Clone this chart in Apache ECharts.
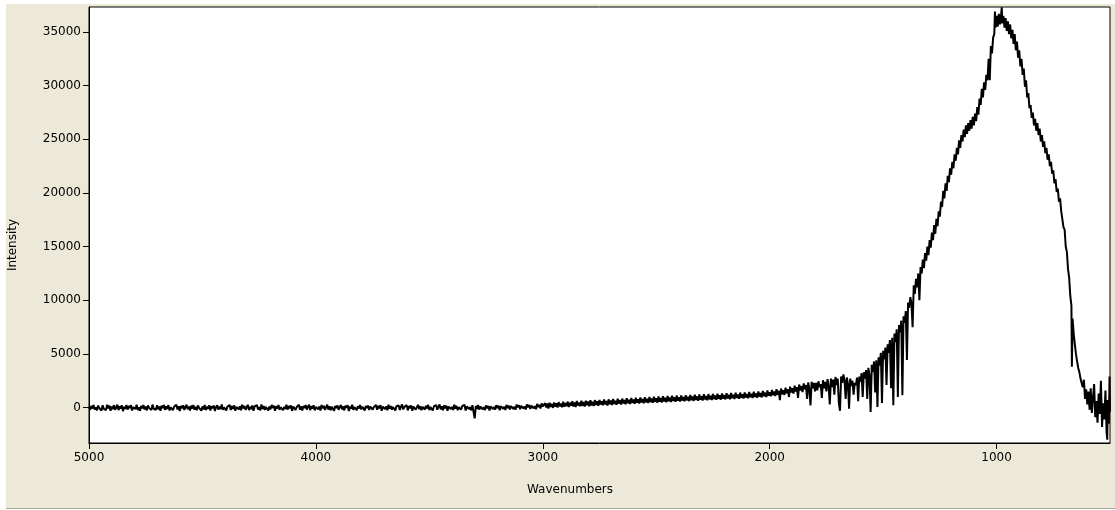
<!DOCTYPE html>
<html>
<head>
<meta charset="utf-8">
<script src="https://cdn.jsdelivr.net/npm/echarts@6/dist/echarts.min.js"></script>
<style>
html,body{margin:0;padding:0;background:#fff;}
#bg{position:absolute;left:6px;top:4px;width:1109px;height:504px;background:#ECE9D8;border-bottom:1px solid #ACA899;}
#chart{position:absolute;left:0;top:0;width:1115px;height:510px;}
</style>
</head>
<body>
<div id="bg"></div>
<div id="chart"></div>
<script>
var xTicks = [5000, 4000, 3000, 2000, 1000];
var yTicks = [0, 5000, 10000, 15000, 20000, 25000, 30000, 35000];
var xTitle = 'Wavenumbers';
var yTitle = 'Intensity';

// [wavenumber, intensity]
var spectrum = [
[5000,80],[4995,-210],[4990,150],[4985,-90],[4980,240],[4975,-170],[4970,30],[4965,-260],[4960,190],[4955,-40],
[4950,120],[4945,-280],[4940,210],[4935,-120],[4930,60],[4925,-230],[4920,260],[4915,-60],[4910,170],[4905,-300],
[4900,90],[4895,-150],[4890,230],[4885,-200],[4880,10],[4875,280],[4870,-240],[4865,130],[4860,-80],[4855,200],
[4850,-330],[4845,70],[4840,-120],[4835,250],[4830,-190],[4825,140],[4820,-50],[4815,220],[4810,-270],[4805,40],
[4800,180],[4795,-140],[4790,270],[4785,-230],[4780,20],[4775,-300],[4770,160],[4765,-70],[4760,240],[4755,-180],
[4750,100],[4745,-260],[4740,190],[4735,-30],[4730,130],[4725,-240],[4720,280],[4715,-110],[4710,50],[4705,-200],
[4700,210],[4695,-160],[4690,90],[4685,-290],[4680,170],[4675,-40],[4670,250],[4665,-210],[4660,110],[4655,-130],
[4650,230],[4645,-270],[4640,30],[4635,190],[4630,-250],[4625,80],[4620,-100],[4615,260],[4610,-180],[4605,120],
[4600,-310],[4595,150],[4590,-60],[4585,210],[4580,-220],[4575,40],[4570,270],[4565,-150],[4560,100],[4555,-280],
[4550,180],[4545,-90],[4540,240],[4535,-200],[4530,60],[4525,-250],[4520,200],[4515,-20],[4510,150],[4505,-290],
[4500,110],[4495,-170],[4490,250],[4485,-230],[4480,70],[4475,-120],[4470,220],[4465,-270],[4460,130],[4455,-60],
[4450,190],[4445,-320],[4440,40],[4435,230],[4430,-190],[4425,100],[4420,-140],[4415,280],[4410,-210],[4405,20],
[4400,170],[4395,-260],[4390,90],[4385,-50],[4380,240],[4375,-230],[4370,140],[4365,-110],[4360,210],[4355,-290],
[4350,60],[4345,180],[4340,-170],[4335,120],[4330,-250],[4325,270],[4320,-80],[4315,150],[4310,-200],[4305,30],
[4300,260],[4295,-240],[4290,80],[4285,-130],[4280,200],[4275,-300],[4270,110],[4265,-30],[4260,230],[4255,-180],
[4250,50],[4245,-260],[4240,290],[4235,-120],[4230,140],[4225,-220],[4220,60],[4215,210],[4210,-270],[4205,100],
[4200,-160],[4195,250],[4190,-40],[4185,170],[4180,-290],[4175,120],[4170,-90],[4165,240],[4160,-210],[4155,30],
[4150,190],[4145,-250],[4140,80],[4135,-140],[4130,270],[4125,-190],[4120,140],[4115,-60],[4110,200],[4105,-310],
[4100,90],[4095,180],[4090,-230],[4085,40],[4080,-120],[4075,260],[4070,-200],[4065,110],[4060,-270],[4055,160],
[4050,-50],[4045,230],[4040,-180],[4035,70],[4030,280],[4025,-240],[4020,120],[4015,-100],[4010,210],[4005,-260],
[4000,50],[3995,190],[3990,-150],[3985,100],[3980,-280],[3975,240],[3970,-70],[3965,160],[3960,-220],[3955,30],
[3950,270],[3945,-190],[3940,130],[3935,-240],[3930,80],[3925,220],[3920,-300],[3915,150],[3910,-40],[3905,200],
[3900,-210],[3895,60],[3890,250],[3885,-160],[3880,110],[3875,-260],[3870,180],[3865,-20],[3860,230],[3855,-320],
[3850,90],[3845,-110],[3840,260],[3835,-200],[3830,40],[3825,170],[3820,-240],[3815,120],[3810,-80],[3805,240],
[3800,-170],[3795,70],[3790,210],[3785,-280],[3780,140],[3775,-50],[3770,190],[3765,-230],[3760,100],[3755,280],
[3750,-190],[3745,30],[3740,-130],[3735,250],[3730,-210],[3725,160],[3720,-60],[3715,220],[3710,-290],[3705,80],
[3700,180],[3695,-150],[3690,110],[3685,-250],[3680,270],[3675,-90],[3670,140],[3665,-200],[3660,60],[3655,240],
[3650,-270],[3645,120],[3640,-30],[3635,200],[3630,-220],[3625,90],[3620,290],[3615,-170],[3610,50],[3605,-120],
[3600,230],[3595,-260],[3590,150],[3585,-70],[3580,210],[3575,-300],[3570,100],[3565,180],[3560,-190],[3555,20],
[3550,260],[3545,-140],[3540,130],[3535,-240],[3530,70],[3525,220],[3520,-180],[3515,160],[3510,-90],[3505,250],
[3500,-230],[3495,40],[3490,190],[3485,-270],[3480,110],[3475,-40],[3470,240],[3465,-200],[3460,80],[3455,280],
[3450,-160],[3445,120],[3440,-250],[3435,200],[3430,-60],[3425,170],[3420,-290],[3415,90],[3410,230],[3405,-130],
[3400,60],[3395,-220],[3390,270],[3385,-100],[3380,150],[3375,-240],[3370,30],[3365,210],[3360,-180],[3355,130],
[3350,-50],[3345,260],[3340,-270],[3335,100],[3330,180],[3325,-150],[3320,50],[3315,-260],[3310,220],[3305,-400],
[3300,-1000],[3295,150],[3290,-120],[3285,240],[3280,-190],[3275,90],[3270,270],[3265,-160],[3260,40],[3255,-230],
[3250,200],[3245,-80],[3240,150],[3235,-260],[3230,110],[3225,290],[3220,-140],[3215,60],[3210,-200],[3205,230],
[3200,-30],[3195,170],[3190,-250],[3185,130],[3180,300],[3175,-110],[3170,80],[3165,-220],[3160,250],[3155,-60],
[3150,190],[3145,-170],[3140,140],[3135,320],[3130,-130],[3125,70],[3120,-200],[3115,280],[3110,20],[3105,210],
[3100,-150],[3095,160],[3090,330],[3085,-90],[3080,110],[3075,-180],[3070,300],[3065,40],[3060,240],[3055,-120],
[3050,180],[3045,360],[3040,-70],[3035,130],[3030,-150],[3025,340],[3020,60],[3015,250],[3010,-80],[3005,390],
[3000,100],[2995,-40],[2990,410],[2985,20],[2980,380],[2975,-80],[2970,450],[2965,60],[2960,340],[2955,-30],
[2950,480],[2945,90],[2940,400],[2935,0],[2930,510],[2925,120],[2920,370],[2915,30],[2910,540],[2905,80],
[2900,430],[2895,130],[2890,560],[2885,50],[2880,460],[2875,170],[2870,590],[2865,100],[2860,480],[2855,60],
[2850,620],[2845,190],[2840,470],[2835,120],[2830,650],[2825,160],[2820,520],[2815,90],[2810,640],[2805,220],
[2800,560],[2795,130],[2790,680],[2785,200],[2780,550],[2775,150],[2770,700],[2765,250],[2760,590],[2755,170],
[2750,720],[2745,280],[2740,580],[2735,210],[2730,750],[2725,290],[2720,620],[2715,190],[2710,770],[2705,320],
[2700,650],[2695,240],[2690,800],[2685,330],[2680,640],[2675,260],[2670,820],[2665,370],[2660,690],[2655,280],
[2650,840],[2645,390],[2640,700],[2635,300],[2630,870],[2625,410],[2620,730],[2615,330],[2610,900],[2605,430],
[2600,760],[2595,350],[2590,920],[2585,450],[2580,780],[2575,370],[2570,950],[2565,470],[2560,800],[2555,400],
[2550,970],[2545,490],[2540,830],[2535,420],[2530,1000],[2525,510],[2520,850],[2515,440],[2510,1020],[2505,530],
[2500,870],[2495,460],[2490,1040],[2485,550],[2480,890],[2475,480],[2470,1060],[2465,570],[2460,910],[2455,500],
[2450,1080],[2445,590],[2440,930],[2435,520],[2430,1100],[2425,610],[2420,950],[2415,540],[2410,1120],[2405,630],
[2400,970],[2395,560],[2390,1140],[2385,650],[2380,990],[2375,580],[2370,1160],[2365,670],[2360,1010],[2355,600],
[2350,1180],[2345,690],[2340,1030],[2335,620],[2330,1200],[2325,710],[2320,1040],[2315,640],[2310,1220],[2305,730],
[2300,1060],[2295,660],[2290,1240],[2285,750],[2280,1080],[2275,680],[2270,1260],[2265,770],[2260,1100],[2255,700],
[2250,1280],[2245,790],[2240,1120],[2235,720],[2230,1300],[2225,810],[2220,1140],[2215,740],[2210,1320],[2205,830],
[2200,1160],[2195,760],[2190,1340],[2185,850],[2180,1180],[2175,780],[2170,1360],[2165,870],[2160,1200],[2155,800],
[2150,1380],[2145,890],[2140,1220],[2135,820],[2130,1400],[2125,910],[2120,1240],[2115,840],[2110,1420],[2105,930],
[2100,1260],[2095,860],[2090,1450],[2085,960],[2080,1290],[2075,890],[2070,1480],[2065,990],[2060,1320],[2055,920],
[2050,1510],[2045,1020],[2040,1350],[2035,950],[2030,1550],[2025,1060],[2020,1390],[2015,990],[2010,1590],[2005,1100],
[2000,1430],[1995,1050],[1990,1650],[1985,1150],[1980,1500],[1975,1080],[1970,1720],[1965,1200],[1960,1560],[1955,700],
[1950,1780],[1945,1250],[1940,1620],[1935,1180],[1930,1850],[1925,1330],[1920,1700],[1915,1000],[1910,1950],[1905,1400],
[1900,1800],[1895,1300],[1890,2050],[1885,1500],[1880,1900],[1875,900],[1870,2150],[1865,1600],[1860,2000],[1855,1450],
[1850,2250],[1845,1700],[1840,2100],[1835,800],[1830,2350],[1825,1750],[1820,200],[1815,2400],[1810,1800],[1805,2300],
[1800,1500],[1795,2300],[1790,1600],[1785,2450],[1780,1900],[1775,2200],[1770,900],[1765,2550],[1760,1800],[1755,2400],
[1750,1500],[1745,2650],[1740,2000],[1735,300],[1730,2700],[1725,1900],[1720,2600],[1715,1200],[1710,2850],[1705,2100],
[1700,2700],[1695,400],[1690,-300],[1685,2900],[1680,2300],[1675,3100],[1670,2500],[1665,800],[1660,2800],[1655,2200],
[1650,-100],[1645,2700],[1640,2000],[1635,2500],[1630,1200],[1625,2300],[1620,2100],[1615,2800],[1610,600],[1605,2900],
[1600,2400],[1595,3200],[1590,1000],[1585,3300],[1580,2700],[1575,3500],[1570,800],[1565,3700],[1560,3000],[1555,-400],
[1550,4000],[1545,3300],[1540,4300],[1535,1400],[1530,4400],[1525,50],[1520,4700],[1515,3900],[1510,5100],[1505,420],
[1500,5300],[1495,4500],[1490,5600],[1485,2100],[1480,5900],[1475,5100],[1470,6300],[1465,1800],[1460,6500],[1455,230],
[1450,6900],[1445,6100],[1440,7300],[1435,980],[1430,7700],[1425,7000],[1420,8100],[1415,1160],[1410,8500],[1405,7900],
[1400,9000],[1395,4430],[1390,9800],[1385,9300],[1380,10300],[1375,9700],[1370,7500],[1365,11400],[1360,10600],[1355,12000],
[1350,11200],[1345,12500],[1340,10000],[1335,13100],[1330,12500],[1325,13800],[1320,13000],[1315,14400],[1310,13700],[1305,15000],
[1300,14200],[1295,15600],[1290,14900],[1285,16300],[1280,15600],[1275,17000],[1270,16200],[1265,17600],[1260,16900],[1255,18300],
[1250,17800],[1245,19200],[1240,18700],[1235,20200],[1230,19500],[1225,20900],[1220,20200],[1215,21600],[1210,21000],[1205,22300],
[1200,21700],[1195,22900],[1190,22300],[1185,23600],[1180,23000],[1175,24200],[1170,23600],[1165,24900],[1160,24200],[1155,25400],
[1150,24800],[1145,25900],[1140,25200],[1135,26300],[1130,25500],[1125,26500],[1120,25800],[1115,26800],[1110,26000],[1105,27100],
[1100,26300],[1095,27400],[1090,26700],[1085,28000],[1080,27300],[1075,28800],[1070,28200],[1065,29700],[1060,28900],[1055,30300],
[1050,29600],[1045,31000],[1040,30500],[1035,32500],[1030,30500],[1025,33700],[1020,33000],[1015,34500],[1010,34800],[1007,36900],
[1005,35400],[1000,36500],[995,35500],[990,36700],[985,35700],[980,36600],[977,37300],[975,35800],[970,36500],[965,35400],
[960,36300],[955,35100],[950,36000],[945,34800],[940,35700],[935,34400],[930,35200],[925,33900],[920,34800],[915,33300],
[910,34100],[905,32600],[900,33300],[895,31800],[890,32500],[885,31000],[880,31600],[875,29900],[870,30500],[865,28900],
[860,29300],[855,27900],[850,28200],[845,27000],[840,27500],[835,26300],[830,26900],[825,25800],[820,26500],[815,25400],
[810,26000],[805,24800],[800,25400],[795,24300],[790,24800],[785,23700],[780,24200],[775,23100],[770,23600],[765,22500],
[760,22900],[755,21800],[750,22100],[745,20900],[740,21300],[735,20100],[730,20400],[725,19200],[720,19500],[715,18300],
[710,18200],[705,16800],[700,16600],[695,15000],[690,14500],[685,12900],[680,12100],[675,10400],[670,9500],[668,3800],
[665,8300],[660,6900],[655,5900],[650,5000],[645,4300],[640,3700],[635,3300],[630,2700],[625,2300],[620,1900],
[615,2600],[610,800],[605,1700],[600,300],[595,1500],[590,-200],[585,1800],[580,-500],[575,900],[570,2200],
[565,-900],[560,600],[555,-1400],[550,1300],[545,-600],[540,2500],[535,-1800],[530,400],[525,-1100],[520,1600],
[515,-2300],[512,-3000],[510,700],[505,-1500],[502,2900],[500,-400]
];

var font = '12px "DejaVu Sans", sans-serif';
var plain = function (v) { return String(v); };
var chart = echarts.init(document.getElementById('chart'), null, {renderer: 'canvas'});
chart.setOption({
  animation: false,
  backgroundColor: 'transparent',
  grid: {left: 89, top: 7, right: 5, bottom: 67, show: true, backgroundColor: '#fff', borderColor: '#000', borderWidth: 1},
  xAxis: {
    type: 'value', inverse: true, min: 500, max: 5000,
    axisLine: {show: true, onZero: false, lineStyle: {color: '#000'}},
    axisTick: {show: true, length: 6, customValues: xTicks, lineStyle: {color: '#000'}},
    axisLabel: {customValues: xTicks, formatter: plain, color: '#000', fontFamily: 'DejaVu Sans', fontSize: 12, margin: 9},
    splitLine: {show: false}
  },
  yAxis: {
    type: 'value', min: -3300, max: 37330,
    axisLine: {show: true, onZero: false, lineStyle: {color: '#000'}},
    axisTick: {show: true, length: 6, customValues: yTicks, lineStyle: {color: '#000'}},
    axisLabel: {customValues: yTicks, formatter: plain, color: '#000', fontFamily: 'DejaVu Sans', fontSize: 12, margin: 8},
    splitLine: {show: false}
  },
  graphic: [
    {type: 'text', x: 13, y: 245, rotation: Math.PI / 2, style: {text: yTitle, font: font, fill: '#000', textAlign: 'center', textVerticalAlign: 'middle'}},
    {type: 'text', x: 570, y: 490, style: {text: xTitle, font: font, fill: '#000', textAlign: 'center', textVerticalAlign: 'middle'}}
  ],
  series: [{
    type: 'line', data: spectrum, showSymbol: false, symbol: 'none', sampling: null,
    lineStyle: {color: '#000', width: 2}, emphasis: {disabled: true}
  }]
});
</script>
</body>
</html>
